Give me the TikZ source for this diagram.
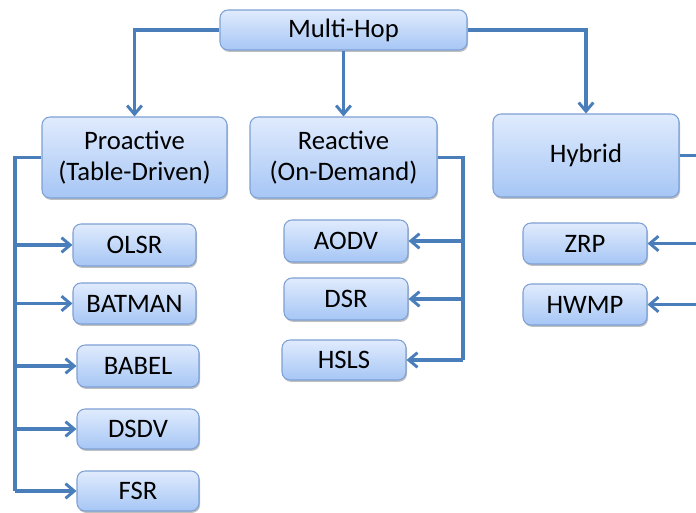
\documentclass[tikz,border=0pt]{standalone}
\usepackage{fontspec}
\setmainfont{Carlito}
\usetikzlibrary{arrows.meta,shadows,shadings}
\definecolor{linec}{RGB}{74,126,187}
\definecolor{boxtop}{RGB}{224,235,253}
\definecolor{boxbot}{RGB}{166,198,245}
\definecolor{boxdraw}{RGB}{126,160,212}
\tikzset{
  box/.style={draw=boxdraw, line width=0.8pt, rounded corners=6pt,
    top color=boxtop, bottom color=boxbot, inner sep=0pt,
    font=\fontsize{20}{23}\selectfont, align=center, text=black,
    drop shadow={shadow xshift=0.8pt, shadow yshift=-1.4pt, opacity=0.25, fill=black}},
  conn/.style={draw=linec, line width=2.4pt},
  arr/.style={conn, -{Straight Barb[length=6.5pt,width=11pt,line width=2.2pt]}}
}
\begin{document}
\begin{tikzpicture}[x=0.75pt,y=-0.75pt]
\useasboundingbox (0,0) rectangle (696,513);
\clip (0,0) rectangle (696,513);
% nodes
\node[box, minimum width=185.25pt, minimum height=30pt] (mh) at (343.5,30) {Multi-Hop};
\node[box, minimum width=138.75pt, minimum height=60.75pt] (pro) at (134.5,157.5) {Proactive\\(Table-Driven)};
\node[box, minimum width=140.25pt, minimum height=60.75pt] (rea) at (343.5,157.5) {Reactive\\(On-Demand)};
\node[box, minimum width=139.5pt, minimum height=62.25pt] (hyb) at (586,155.5) {Hybrid};
\node[box, minimum width=92.25pt, minimum height=31.5pt] (olsr) at (134.5,245) {OLSR};
\node[box, minimum width=92.25pt, minimum height=30.75pt] (batman) at (134.5,303.5) {BATMAN};
\node[box, minimum width=91.5pt, minimum height=31.5pt] (babel) at (138,366) {BABEL};
\node[box, minimum width=91.5pt, minimum height=30pt] (dsdv) at (138,429) {DSDV};
\node[box, minimum width=91.5pt, minimum height=30pt] (fsr) at (138,491) {FSR};
\node[box, minimum width=93pt, minimum height=31.5pt] (aodv) at (346,241) {AODV};
\node[box, minimum width=93pt, minimum height=31.5pt] (dsr) at (346,299) {DSR};
\node[box, minimum width=93pt, minimum height=30pt] (hsls) at (344,360) {HSLS};
\node[box, minimum width=93pt, minimum height=30.75pt] (zrp) at (585,243.5) {ZRP};
\node[box, minimum width=93pt, minimum height=30.75pt] (hwmp) at (585,304.5) {HWMP};
% top connectors
\draw[arr] (mh.west) -| (pro.north);
\draw[arr] (mh.south) -- (rea.north);
\draw[arr] (mh.east) -| (hyb.north);
% proactive
\coordinate (pl) at (15,157.5);
\draw[conn] (pro.west) -- (pl) -- (pl |- fsr.west);
\draw[arr] (pl |- olsr.west) -- (olsr.west);
\draw[arr] (pl |- batman.west) -- (batman.west);
\draw[arr] (pl |- babel.west) -- (babel.west);
\draw[arr] (pl |- dsdv.west) -- (dsdv.west);
\draw[arr] (pl |- fsr.west) -- (fsr.west);
% reactive
\coordinate (rr) at (463,157.5);
\draw[conn] (rea.east) -- (rr) -- (rr |- hsls.east);
\draw[arr] (rr |- aodv.east) -- (aodv.east);
\draw[arr] (rr |- dsr.east) -- (dsr.east);
\draw[arr] (rr |- hsls.east) -- (hsls.east);
% hybrid
\coordinate (hr) at (705,155.5);
\draw[conn] (hyb.east) -- (hr);
\draw[arr] (hr |- zrp.east) -- (zrp.east);
\draw[arr] (hr |- hwmp.east) -- (hwmp.east);
\end{tikzpicture}
\end{document}
